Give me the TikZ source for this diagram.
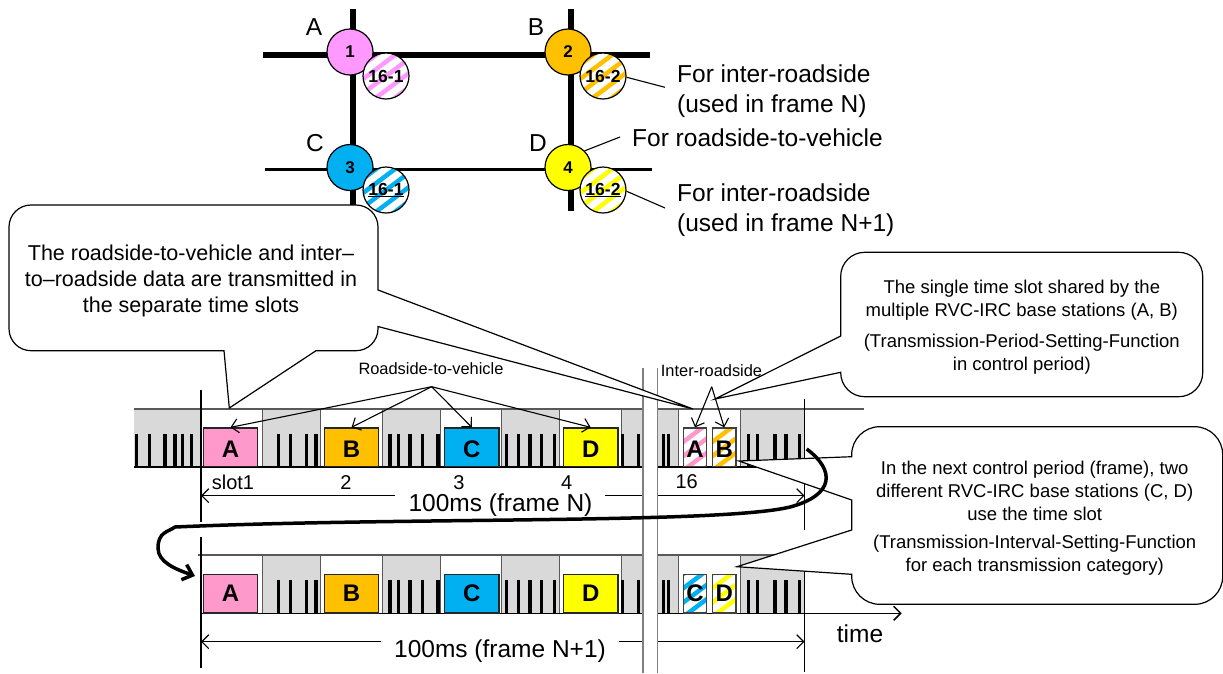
\documentclass[tikz,border=0pt]{standalone}
\usepackage{fontspec}
\setmainfont{Liberation Sans}
\usetikzlibrary{calc,arrows.meta}
\definecolor{SlotPink}{HTML}{FF99CC}
\definecolor{SitePink}{HTML}{FF99FF}
\definecolor{SiteOrange}{HTML}{FFC000}
\definecolor{SiteBlue}{HTML}{00B0F0}
\definecolor{SiteYellow}{HTML}{FFFF00}
\definecolor{SlotGray}{HTML}{D9D9D9}
\definecolor{EdgeGray}{HTML}{595959}
\begin{document}
\begin{tikzpicture}[x=1pt,y=-1pt,
	site/.style={draw=black, circle, fill=#1, line width=1.2pt, minimum size=46pt, inner sep=0pt,
		font=\fontsize{17}{20}\selectfont\bfseries},
	hatched/.style={path picture={
		\foreach \s in {-76,-57,...,76}
			\draw[#1, line width=4.5pt] ($(path picture bounding box.center)+(\s-32,24)$) -- ($(path picture bounding box.center)+(\s+32,-24)$);
		}},
	share/.style={draw=black, circle, fill=white, hatched=#1, line width=1.2pt, minimum size=46pt, inner sep=0pt,
		font=\fontsize{17.5}{20}\selectfont\bfseries},
	slotbox/.style={draw=black!85, fill=#1, line width=1.2pt, minimum width=54.5pt, minimum height=38.7pt, inner sep=0pt,
		font=\fontsize{24}{26}\selectfont\bfseries},
	tinybox/.style={draw=black!75, fill=white, hatched=#1, line width=1.2pt, minimum width=23.5pt, minimum height=38.7pt, inner sep=0pt,
		font=\fontsize{24}{26}\selectfont\bfseries},
	lowtext/.style={text height=20.6pt, text depth=0pt},
	bigtext/.style={font=\fontsize{24.5}{30}\selectfont, align=left, inner sep=0pt},
	slottext/.style={font=\fontsize{20}{24}\selectfont, inner sep=0pt},
	smalltext/.style={font=\fontsize{16.4}{20}\selectfont, inner sep=0pt},
	notetext/.style={font=\fontsize{18.5}{23}\selectfont, align=center, inner sep=0pt},
	callout/.style={draw=black, fill=white, line width=1.2pt},
	thin line/.style={draw=black, line width=1.1pt},
	edgeline/.style={draw=EdgeGray, line width=1pt},
	breakline/.style={draw=gray, line width=1.6pt},
	tick/.style={draw=black, line width=3.2pt},
	arrow/.style={-{Straight Barb[length=7pt,width=14pt]}, line width=1.1pt},
	hoparrow/.style={-{Straight Barb[length=9pt,width=16pt]}, line width=3.5pt}
	]
	\useasboundingbox (0,0) rectangle (1223,673);
	% roads
	\draw[line width=6pt] (263,55) -- (650,55);
	\draw[line width=6pt] (353,9) -- (353,210);
	\draw[line width=6pt] (571,9) -- (571,211);
	\draw[line width=3pt] (265,169.5) -- (652,169.5);
	% base stations
	\node[site=SitePink] (rsu1) at (350,52) {1};
	\node[site=SiteOrange] (rsu2) at (568,52) {2};
	\node[site=SiteBlue] (rsu3) at (350,167.5) {3};
	\node[site=SiteYellow] (rsu4) at (568,167.5) {4};
	\node[share=SitePink] (irc1) at (386,76) {16-1};
	\node[share=SiteOrange] (irc2) at (603,76) {16-2};
	\node[share=SiteBlue] (irc3) at (386,190) {\underline{16-1}};
	\node[share=SiteYellow] (irc4) at (603,190) {\underline{16-2}};
	\node[bigtext] (nameA) at (314,27) {A};
	\node[bigtext] (nameB) at (536,27) {B};
	\node[bigtext] (nameC) at (315,143) {C};
	\node[bigtext] (nameD) at (538,143) {D};
	\node[bigtext, anchor=west] (noteN) at (677,91) {For inter-roadside\\(used in frame N)};
	\node[bigtext, anchor=west] (noteV) at (632,138) {For roadside-to-vehicle};
	\node[bigtext, anchor=west] (noteM) at (677,210) {For inter-roadside\\(used in frame N+1)};
	\coordinate (leadN) at (665,87.3);
	\coordinate (leadV) at (620,137);
	\coordinate (leadM) at (665,208);
	\draw[thin line] (irc2.-3) -- (leadN);
	\draw[thin line] (rsu4.45) -- (leadV);
	\draw[thin line] (irc4.-3) -- (leadM);
	% frame N
	\fill[SlotGray] (134,409) rectangle (201,467);
	\foreach \a/\b in {262.7/320,382/440,501.7/559,621/678.7,740/804}
		\fill[SlotGray] (\a,409) rectangle (\b,467);
	\foreach \a in {262.7,320,382,440,501.7,559,621,678.7,740}
		\draw[edgeline] (\a,409) -- (\a,467);
	\foreach \a in {136.7,149.3,165,175,182.3,191.7,278.3,290.7,306.7,316,390,398.3,410,422.7,438,506.7,518.3,530,541.7,554.3,622.7,638.3,663.3,668.3,748.3,757.3,775,786,799.3}
		\draw[tick] (\a,434) -- (\a,467);
	\draw[edgeline, line width=1.2pt] (134,409) -- (864,409);
	\draw[line width=1.5pt] (134,467) -- (805,467);
	\draw[thin line] (201,390) -- (201,522);
	\draw[thin line] (804.5,399) -- (804.5,530);
	\node[slotbox=SlotPink, lowtext] (slotA) at (230.5,447.3) {A};
	\node[slotbox=SiteOrange, lowtext] (slotB) at (351.5,447.3) {B};
	\node[slotbox=SiteBlue, lowtext] (slotC) at (471.8,447.3) {C};
	\node[slotbox=SiteYellow, lowtext] (slotD) at (590.7,447.3) {D};
	\node[tinybox=SlotPink, lowtext] (tinyA) at (695,447.3) {A};
	\node[tinybox=SiteOrange, lowtext] (tinyB) at (724.2,447.3) {B};
	\node[slottext] (num1) at (233,482) {slot1};
	\node[slottext] (num2) at (346,483) {2};
	\node[slottext] (num3) at (459,483) {3};
	\node[slottext] (num4) at (566.7,483) {4};
	\node[slottext] (num16) at (686.7,482) {16};
	\node[bigtext] (frameN) at (500.5,505) {100ms (frame N)};
	\coordinate (dimNa) at (395,495.7);
	\coordinate (dimNb) at (201,495.7);
	\coordinate (dimNc) at (605,495.7);
	\coordinate (dimNd) at (804.5,495.7);
	\draw[arrow] (dimNa) -- (dimNb);
	\draw[arrow] (dimNc) -- (dimNd);
	% frame N+1
	\foreach \a/\b in {262.7/320,382/440,501.7/559,621/678.7,740/804}
		\fill[SlotGray] (\a,555) rectangle (\b,613.3);
	\foreach \a in {262.7,320,382,440,501.7,559,621,678.7,740}
		\draw[edgeline] (\a,555) -- (\a,613.3);
	\foreach \a in {278.3,290.7,306.7,316,390,398.3,410,422.7,438,506.7,518.3,530,541.7,554.3,622.7,638.3,663.3,668.3,748.3,757.3,775,786,799.3}
		\draw[tick] (\a,580) -- (\a,613.3);
	\draw[edgeline, line width=1.2pt] (198,555) -- (804,555);
	\coordinate (timeA) at (201,613.3);
	\coordinate (timeB) at (901.7,613.3);
	\draw[arrow, line width=1.5pt] (timeA) -- (timeB);
	\draw[thin line] (201,537) -- (201,668);
	\draw[thin line] (804.5,555) -- (804.5,672);
	\node[slotbox=SlotPink] (nextA) at (230.5,593.7) {A};
	\node[slotbox=SiteOrange] (nextB) at (351.5,593.7) {B};
	\node[slotbox=SiteBlue] (nextC) at (471.8,593.7) {C};
	\node[slotbox=SiteYellow] (nextD) at (590.7,593.7) {D};
	\node[tinybox=SiteBlue] (nextE) at (695,593.7) {C};
	\node[tinybox=SiteYellow] (nextF) at (724.2,593.7) {D};
	\node[bigtext] (frameM) at (500,651) {100ms (frame N+1)};
	\node[bigtext] (timeText) at (860,634) {time};
	\coordinate (dimMa) at (380.7,641.7);
	\coordinate (dimMb) at (201,641.7);
	\coordinate (dimMc) at (619,641.7);
	\coordinate (dimMd) at (804.5,641.7);
	\draw[arrow] (dimMa) -- (dimMb);
	\draw[arrow] (dimMc) -- (dimMd);
	% break in the time axis
	\fill[white] (643,368) rectangle (657.5,673);
	\draw[breakline] (643,368) -- (643,673);
	\draw[breakline] (657.5,368) -- (657.5,673);
	% labels over the slots
	\node[smalltext] (rsvText) at (431,369) {Roadside-to-vehicle};
	\node[smalltext] (ircText) at (711.5,371) {Inter-roadside};
	\coordinate (rsvTop) at (431.7,386.7);
	\coordinate (ircTop) at (711.7,386.7);
	\foreach \s in {slotA,slotB,slotC,slotD}
		\draw[arrow] (rsvTop) -- (\s.north);
	\foreach \s in {tinyA,tinyB}
		\draw[arrow] (ircTop) -- (\s.north);
	% callouts
	\draw[callout] (316,350.7) [rounded corners=22pt] -- (378,350.7) [sharp corners] -- (378,326.5) -- (693,409) -- (378,290) [rounded corners=22pt] -- (378,205) -- (9,205) -- (9,350.7) [sharp corners] -- (224,350.7) -- (229.3,408) -- cycle;
	\node[notetext, font=\fontsize{21.5}{26}\selectfont] (noteOne) at (191,281) {The roadside-to-vehicle and inter–\\to–roadside data are transmitted in\\the separate time slots};
	\draw[callout] (840.7,336) [sharp corners] -- (715,399) -- (840.7,372.3) [rounded corners=24pt] -- (840.7,396.7) -- (1202.7,396.7) -- (1202.7,252.3) -- (840.7,252.3) [sharp corners] -- cycle;
	\node[notetext] (noteTwo) at (1021.8,300.5) {The single time slot shared by the\\multiple RVC-IRC base stations (A, B)};
	\node[notetext] (noteThree) at (1021.8,354) {(Transmission-Period-Setting-Function\\in control period)};
	\draw[callout] (851.7,456.7) [sharp corners] -- (739,461) -- (851.7,500) -- (851.7,530) -- (737,566.7) -- (851.7,574.3) [rounded corners=28pt] -- (851.7,604.3) -- (1222.7,604.3) -- (1222.7,426.7) -- (851.7,426.7) [sharp corners] -- cycle;
	\node[notetext] (noteFour) at (1034.7,490.5) {In the next control period (frame), two\\different RVC-IRC base stations (C, D)\\use the time slot};
	\node[notetext] (noteFive) at (1034.7,555) {(Transmission-Interval-Setting-Function\\for each transmission category)};
	% hop to the next frame
	\coordinate (hopStart) at (806.7,449);
	\coordinate (hopEnd) at (195,576);
	\draw[hoparrow] (hopStart) .. controls (835,470) and (835,495) .. (790,507) .. controls (720,524) and (400,517) .. (175,527) .. controls (168,532) and (158,532) .. (158,548) .. controls (158,562) and (175,569) .. (hopEnd);
\end{tikzpicture}
\end{document}
